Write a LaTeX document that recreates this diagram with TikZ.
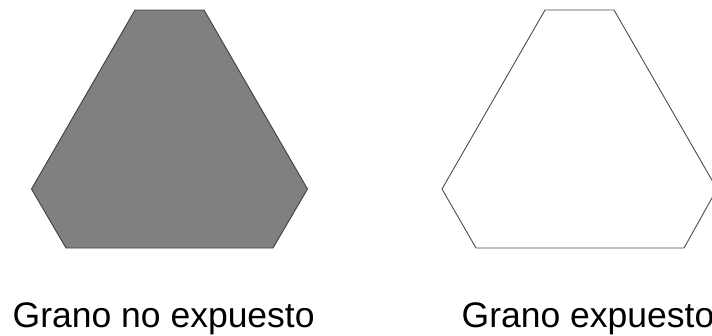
\documentclass[tikz,border=0pt]{standalone}
\usepackage{fontspec}
\setmainfont{Liberation Sans}
\begin{document}
\begin{tikzpicture}[x=1pt,y=-1pt,
  hexline/.style={draw=black!75, line width=0.9pt, line join=miter},
  label/.style={inner sep=0pt, anchor=base west, font=\fontsize{35.5}{40}\selectfont}]
\useasboundingbox (0,0) rectangle (712,335);
\clip (0,0) rectangle (712,335);
\path[hexline, fill=black!50] (135,10) -- (204,10) -- (307.5,189) -- (273,248) -- (66,248) -- (31.5,189) -- cycle;
\path[hexline, draw=black!70] (545,10) -- (614,10) -- (717,189) -- (684,248) -- (476,248) -- (442,189) -- cycle;
\node[label] (t1) at (12.5,327) {Grano no expuesto};
\node[label] (t2) at (461.5,327) {Grano expuesto};
\end{tikzpicture}
\end{document}
